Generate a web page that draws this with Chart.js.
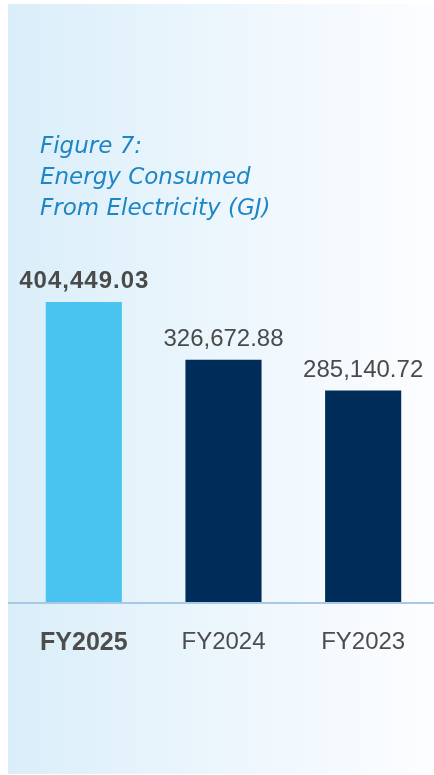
<!DOCTYPE html>
<html>
<head>
<meta charset="utf-8">
<script src="https://cdn.jsdelivr.net/npm/chart.js@4.4.1/dist/chart.umd.min.js"></script>
<style>
  html, body { margin: 0; padding: 0; background: #ffffff; }
  #wrap { position: relative; width: 434px; height: 775px; }
  canvas { display: block; }
</style>
</head>
<body>
<div id="wrap"><canvas id="c" width="434" height="775"></canvas></div>
<script>
// ---- data ----
const categories = ['FY2025', 'FY2024', 'FY2023'];
const energyGJ = [404449.03, 326672.88, 285140.72];
const titleLines = ['Figure 7:', 'Energy Consumed', 'From Electricity (GJ)'];
const barColors = ['#49c3f0', '#002c5a', '#002c5a'];

function fmt(v) {
  return v.toLocaleString('en-US', { minimumFractionDigits: 2, maximumFractionDigits: 2 });
}

const panelPlugin = {
  id: 'panel',
  beforeDraw(chart) {
    const ctx = chart.ctx;
    ctx.save();
    ctx.fillStyle = '#ffffff';
    ctx.fillRect(0, 0, chart.width, chart.height);
    const g = ctx.createLinearGradient(8, 0, 434, 0);
    g.addColorStop(0, '#daeef9');
    g.addColorStop(0.5, '#ecf6fd');
    g.addColorStop(1, '#fcfdff');
    ctx.fillStyle = g;
    ctx.fillRect(8, 4, 426, 770);
    // title
    ctx.fillStyle = '#1e86c4';
    ctx.font = 'italic 23px "DejaVu Sans", sans-serif';
    ctx.textAlign = 'left';
    ctx.textBaseline = 'alphabetic';
    const baselines = [153, 184, 215];
    titleLines.forEach((t, i) => ctx.fillText(t, 40, baselines[i]));
    ctx.restore();
  },
  afterDatasetsDraw(chart) {
    const ctx = chart.ctx;
    const meta = chart.getDatasetMeta(0);
    const yBottom = chart.scales.y.bottom;
    ctx.save();
    // axis line across panel
    ctx.strokeStyle = '#a9c8e4';
    ctx.lineWidth = 2;
    ctx.beginPath();
    ctx.moveTo(8, yBottom + 1);
    ctx.lineTo(434, yBottom + 1);
    ctx.stroke();
    // value labels
    ctx.textAlign = 'center';
    ctx.textBaseline = 'alphabetic';
    ctx.fillStyle = '#4a4a4a';
    meta.data.forEach((bar, i) => {
      ctx.font = (i === 0 ? 'bold 24px' : '24px') + ' "Liberation Sans", Arial, sans-serif';
      ctx.letterSpacing = i === 0 ? '1px' : '0px';
      ctx.fillText(fmt(energyGJ[i]), bar.x + (i === 0 ? 0.5 : 0), bar.y - 14);
    });
    ctx.restore();
  }
};

new Chart(document.getElementById('c'), {
  type: 'bar',
  data: {
    labels: categories,
    datasets: [{
      data: energyGJ,
      backgroundColor: barColors,
      borderWidth: 0,
      barPercentage: 0.545,
      categoryPercentage: 1.0
    }]
  },
  options: {
    responsive: false,
    animation: false,
    events: [],
    layout: { padding: { left: 14, right: 1, top: 157, bottom: 0 } },
    plugins: { legend: { display: false }, tooltip: { enabled: false }, title: { display: false } },
    scales: {
      y: {
        display: false,
        min: 0,
        max: 600000
      },
      x: {
        grid: { display: false, drawTicks: false },
        border: { display: false },
        ticks: {
          color: '#4d4d4d',
          padding: 26,
          font: (ctx) => ({
            family: '"Liberation Sans", Arial, sans-serif',
            size: ctx.index === 0 ? 25 : 24,
            weight: ctx.index === 0 ? 'bold' : 'normal'
          })
        },
        afterFit(scale) { scale.height = 173; }
      }
    }
  },
  plugins: [panelPlugin]
});
</script>
</body>
</html>
